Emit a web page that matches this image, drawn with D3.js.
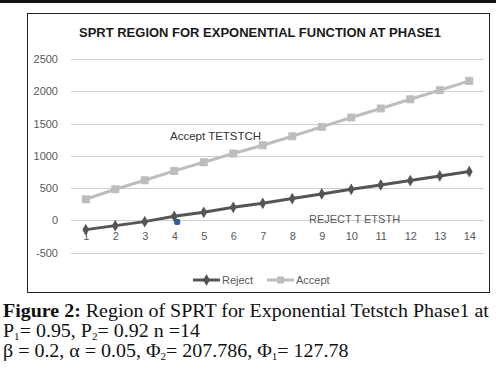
<!DOCTYPE html>
<html>
<head>
<meta charset="utf-8">
<script src="https://cdn.jsdelivr.net/npm/d3@7"></script>
<style>
  body { margin: 0; background: #fff; }
  svg { display: block; }
</style>
</head>
<body>
<svg width="496" height="373"></svg>
<script>
const width = 496;
const height = 373;

// data
const categories = [1, 2, 3, 4, 5, 6, 7, 8, 9, 10, 11, 12, 13, 14];
const rejectVals = [-145, -83, -21, 62, 124, 202, 264, 337, 409, 481, 548, 616, 688, 756];
const acceptVals = [326, 481, 621, 766, 901, 1036, 1165, 1304, 1449, 1595, 1735, 1879, 2019, 2163];
const yTicks = [-500, 0, 500, 1000, 1500, 2000, 2500];
const markerPoint = [{ x: 4.1, y: -25 }];

const svg = d3.select("svg");

svg.append("rect").attr("width", width).attr("height", height).attr("fill", "#fff");

// top rule of the page
svg.append("rect")
    .attr("x", 0).attr("y", 0)
    .attr("width", width).attr("height", 3)
    .attr("fill", "#111");

// chart frame
svg.append("rect")
    .attr("x", 27.5).attr("y", 13.5)
    .attr("width", 462).attr("height", 279)
    .attr("fill", "#fff")
    .attr("stroke", "#222")
    .attr("stroke-width", 1);

// title
svg.append("text")
    .attr("x", 260).attr("y", 37)
    .attr("text-anchor", "middle")
    .attr("font-family", "Liberation Sans, Arial, sans-serif")
    .attr("font-weight", "bold")
    .attr("font-size", 12)
    .attr("textLength", 362)
    .attr("lengthAdjust", "spacingAndGlyphs")
    .attr("fill", "#1a1a1a")
    .text("SPRT REGION FOR EXPONENTIAL FUNCTION AT PHASE1");

//--------------------scales--------------------
const x = d3.scaleLinear()
    .domain([0.5, 14.5])
    .range([71, 484]);

const y = d3.scaleLinear()
    .domain([-500, 2500])
    .range([252.5, 59.2]);

// gridlines
svg.append("g")
    .selectAll("line")
    .data(yTicks)
    .enter()
    .append("line")
    .attr("x1", 71)
    .attr("x2", 484)
    .attr("y1", d => Math.round(y(d)) + 0.5)
    .attr("y2", d => Math.round(y(d)) + 0.5)
    .attr("stroke", "#d0d0d0")
    .attr("stroke-width", 1);

// y axis labels
const yAxis = d3.axisLeft(y)
    .tickValues(yTicks)
    .tickFormat(d => String(d))
    .tickSize(0)
    .tickPadding(0);

svg.append("g")
    .attr("transform", "translate(58,0)")
    .call(yAxis)
    .call(g => g.select(".domain").remove())
    .call(g => g.selectAll("text")
        .attr("font-family", "Liberation Sans, Arial, sans-serif")
        .attr("font-size", 11)
        .attr("fill", "#595959"));

// x axis labels sit under the zero line
const xAxis = d3.axisBottom(x)
    .tickValues(categories)
    .tickFormat(d => String(d))
    .tickSize(0)
    .tickPadding(0);

svg.append("g")
    .attr("transform", "translate(0," + (y(0) + 12) + ")")
    .call(xAxis)
    .call(g => g.select(".domain").remove())
    .call(g => g.selectAll("text")
        .attr("font-family", "Liberation Sans, Arial, sans-serif")
        .attr("font-size", 11)
        .attr("fill", "#595959"));

//--------------------series--------------------
const line = d3.line()
    .x((d, i) => x(categories[i]))
    .y(d => y(d));

const acceptColor = "#bdbdbd";
const rejectColor = "#555555";

svg.append("path")
    .datum(acceptVals)
    .attr("d", line)
    .attr("fill", "none")
    .attr("stroke", acceptColor)
    .attr("stroke-width", 3);

svg.append("g")
    .selectAll("rect")
    .data(acceptVals)
    .enter()
    .append("rect")
    .attr("x", (d, i) => x(categories[i]) - 4)
    .attr("y", d => y(d) - 4)
    .attr("width", 8)
    .attr("height", 8)
    .attr("fill", acceptColor);

svg.append("path")
    .datum(rejectVals)
    .attr("d", line)
    .attr("fill", "none")
    .attr("stroke", rejectColor)
    .attr("stroke-width", 3);

const diamond = d3.symbol().type(d3.symbolDiamond).size(40);
svg.append("g")
    .selectAll("path")
    .data(rejectVals)
    .enter()
    .append("path")
    .attr("d", diamond)
    .attr("transform", (d, i) => "translate(" + x(categories[i]) + "," + y(d) + ")")
    .attr("fill", rejectColor);

// single blue point
svg.append("g")
    .selectAll("circle")
    .data(markerPoint)
    .enter()
    .append("circle")
    .attr("cx", d => x(d.x))
    .attr("cy", d => y(d.y))
    .attr("r", 3.2)
    .attr("fill", "#2f5f98");

// region labels
svg.append("text")
    .attr("x", 170).attr("y", 140)
    .attr("font-family", "Liberation Sans, Arial, sans-serif")
    .attr("font-size", 11.5)
    .attr("fill", "#333")
    .text("Accept TETSTCH");

svg.append("text")
    .attr("x", 309).attr("y", 223)
    .attr("font-family", "Liberation Sans, Arial, sans-serif")
    .attr("font-size", 11)
    .attr("fill", "#595959")
    .text("REJECT T ETSTH");

//--------------------legend--------------------
const legend = [
    { name: "Reject", color: rejectColor, x: 193, shape: "diamond" },
    { name: "Accept", color: acceptColor, x: 267, shape: "square" }
];
const ly = 280;
legend.forEach(l => {
    svg.append("line")
        .attr("x1", l.x).attr("x2", l.x + 27)
        .attr("y1", ly).attr("y2", ly)
        .attr("stroke", l.color)
        .attr("stroke-width", 3);
    if (l.shape == "diamond") {
        svg.append("path")
            .attr("d", diamond)
            .attr("transform", "translate(" + (l.x + 13.5) + "," + ly + ")")
            .attr("fill", l.color);
    } else {
        svg.append("rect")
            .attr("x", l.x + 10).attr("y", ly - 3.5)
            .attr("width", 7).attr("height", 7)
            .attr("fill", l.color);
    }
    svg.append("text")
        .attr("x", l.x + 29).attr("y", ly + 4)
        .attr("font-family", "Liberation Sans, Arial, sans-serif")
        .attr("font-size", 11)
        .attr("fill", "#595959")
        .text(l.name);
});

//--------------------caption--------------------
// serif caption, stretched a little sideways like the source
const serif = "Liberation Serif, Times New Roman, serif";
const capSize = 18;
const subSize = 10;
const cap = svg.append("g")
    .attr("transform", "translate(3,0) scale(1.11,1)");

const cap1 = cap.append("text")
    .attr("x", 0).attr("y", 317)
    .attr("font-family", serif)
    .attr("font-size", capSize)
    .attr("fill", "#111");
cap1.append("tspan").attr("font-weight", "bold").text("Figure 2:");
cap1.append("tspan").text(" Region of SPRT for Exponential Tetstch Phase1 at");

const cap2 = cap.append("text")
    .attr("x", 0).attr("y", 337)
    .attr("font-family", serif)
    .attr("font-size", capSize)
    .attr("fill", "#111");
cap2.append("tspan").text("P");
cap2.append("tspan").attr("font-size", subSize).attr("dy", 3).text("1");
cap2.append("tspan").attr("dy", -3).text("= 0.95, P");
cap2.append("tspan").attr("font-size", subSize).attr("dy", 3).text("2");
cap2.append("tspan").attr("dy", -3).text("= 0.92 n =14");

const cap3 = cap.append("text")
    .attr("x", 0).attr("y", 357)
    .attr("font-family", serif)
    .attr("font-size", capSize)
    .attr("fill", "#111");
cap3.append("tspan").text("β = 0.2, α = 0.05, Φ");
cap3.append("tspan").attr("font-size", subSize).attr("dy", 3).text("2");
cap3.append("tspan").attr("dy", -3).text("= 207.786, Φ");
cap3.append("tspan").attr("font-size", subSize).attr("dy", 3).text("1");
cap3.append("tspan").attr("dy", -3).text("= 127.78");
</script>
</body>
</html>
